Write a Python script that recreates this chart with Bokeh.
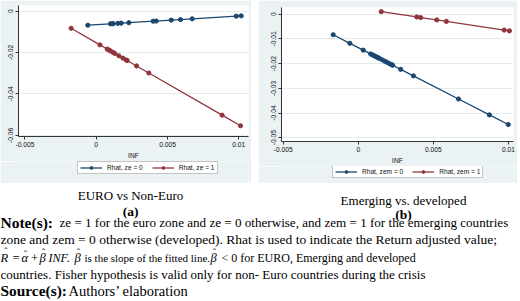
from bokeh.plotting import figure
from bokeh.layouts import column, row
from bokeh.models import (Legend, LegendItem, Label, FixedTicker, Range1d,
                          Spacer, CustomJSTickFormatter)
from bokeh.embed import file_html
from bokeh.resources import INLINE

# ---- Panel (a): EURO vs Non-Euro ------------------------------------------
inf_ze0 = [-0.00059, 0.00100, 0.00112, 0.00119, 0.00152, 0.00175, 0.00229,
           0.00400, 0.00421, 0.00526, 0.00591, 0.00673, 0.00982, 0.01017]
rhat_ze0 = [-0.00685, -0.00618, -0.00613, -0.00610, -0.00596, -0.00586, -0.00564,
            -0.00492, -0.00483, -0.00439, -0.00412, -0.00377, -0.00248, -0.00233]
inf_ze1 = [-0.00176, 0.00026, 0.00077, 0.00089, 0.00100, 0.00117, 0.00131, 0.00159,
           0.00187, 0.00210, 0.00217, 0.00283, 0.00369, 0.00883, 0.01012]
rhat_ze1 = [-0.00833, -0.01633, -0.01835, -0.01882, -0.01926, -0.01993, -0.02049,
            -0.02160, -0.02271, -0.02362, -0.02389, -0.02651, -0.02991, -0.05027,
            -0.05538]

# ---- Panel (b): Emerging vs. developed ------------------------------------
inf_zem0 = [-0.00167, -0.00056, 0.00033, 0.00082, 0.00093, 0.00104, 0.00113,
            0.00122, 0.00131, 0.00140, 0.00158, 0.00175, 0.00189, 0.00206,
            0.00220, 0.00229, 0.00282, 0.00367, 0.00667, 0.00873, 0.00998]
rhat_zem0 = [-0.00830, -0.01177, -0.01454, -0.01607, -0.01642, -0.01676, -0.01704,
             -0.01732, -0.01760, -0.01787, -0.01843, -0.01898, -0.01940, -0.01995,
             -0.02037, -0.02065, -0.02231, -0.02495, -0.03432, -0.04077, -0.04466]
inf_zem1 = [0.00153, 0.00389, 0.00415, 0.00522, 0.00586, 0.00971, 0.01006]
rhat_zem1 = [0.00105, -0.00110, -0.00134, -0.00232, -0.00290, -0.00641, -0.00674]

x_ticks = [-0.005, 0, 0.005, 0.01]
y_ticks_a = [0, -0.02, -0.04, -0.06]
y_ticks_b = [0, -0.01, -0.02, -0.03, -0.04, -0.05]

NAVY = "#1a476f"
MAROON = "#90353b"
PANEL_BG = "#eaf2f3"
SANS = "Liberation Sans"
SERIF = "Liberation Serif"


def panel(width, height, xr, yr, borders, yticks, series):
    left, right, top, bottom = borders
    p = figure(width=width, height=height, x_range=Range1d(*xr), y_range=Range1d(*yr),
               output_backend="svg", toolbar_location=None,
               min_border_left=left, min_border_right=right,
               min_border_top=top, min_border_bottom=bottom,
               background_fill_color="white", border_fill_color=PANEL_BG,
               outline_line_color=None)
    p.xgrid.grid_line_color = None
    p.ygrid.grid_line_color = "#e3ebed"
    p.ygrid.grid_line_width = 1
    fmt = CustomJSTickFormatter(code="return tick.toString()")
    p.xaxis.ticker = FixedTicker(ticks=x_ticks)
    p.yaxis.ticker = FixedTicker(ticks=yticks)
    for ax in (p.xaxis[0], p.yaxis[0]):
        ax.formatter = fmt
        ax.axis_line_color = "#333333"
        ax.axis_line_width = 1
        ax.major_tick_line_color = "#333333"
        ax.major_tick_out = 3
        ax.major_tick_in = 0
        ax.minor_tick_line_color = None
        ax.major_label_text_font = SANS
        ax.major_label_text_font_size = "6.7px"
        ax.major_label_text_color = "#111111"
        ax.major_label_standoff = 2
    p.yaxis.major_label_orientation = "vertical"
    p.xaxis.axis_label = "INF"
    p.xaxis.axis_label_text_font = SANS
    p.xaxis.axis_label_text_font_size = "6.7px"
    p.xaxis.axis_label_text_font_style = "normal"
    p.xaxis.axis_label_text_color = "#111111"
    p.xaxis.axis_label_standoff = 2

    for xs, ys, color in series:
        p.line(xs, ys, line_color=color, line_width=1.3)
        p.scatter(xs, ys, marker="circle", size=4.2, fill_color=color, line_color=color)
    return p


def legend_strip(width, height, labels, series, spot):
    """Grey band under a panel carrying its key.

    The band's ranges sit far from the data, so the series renderers only
    feed the key's samples and draw nothing inside the band itself.
    """
    s = figure(width=width, height=height, x_range=Range1d(1000, 1000 + width),
               y_range=Range1d(1000, 1000 + height), output_backend="svg",
               toolbar_location=None, min_border=0, x_axis_type=None,
               y_axis_type=None, outline_line_color=None,
               background_fill_color=PANEL_BG, border_fill_color=PANEL_BG)
    s.xgrid.grid_line_color = None
    s.ygrid.grid_line_color = None
    items = []
    for label, (xs, ys, color) in zip(labels, series):
        ln = s.line(xs, ys, line_color=color, line_width=1.3)
        sc = s.scatter(xs, ys, marker="circle", size=4.2, fill_color=color,
                       line_color=color)
        items.append(LegendItem(label=label, renderers=[ln, sc]))
    s.add_layout(Legend(items=items, orientation="horizontal", location=spot,
                        label_text_font=SANS, label_text_font_size="6.6px",
                        label_text_color="#111111", label_height=7,
                        glyph_width=22, glyph_height=7, label_standoff=5,
                        spacing=9, padding=2, margin=0,
                        border_line_color="#8a8a8a", border_line_width=0.8,
                        background_fill_color="white", background_fill_alpha=1.0))
    return s


series_a = [(inf_ze0, rhat_ze0, NAVY), (inf_ze1, rhat_ze1, MAROON)]
series_b = [(inf_zem0, rhat_zem0, NAVY), (inf_zem1, rhat_zem1, MAROON)]

fig_a = panel(251, 161, (-0.00545, 0.01068), (-0.06056, 0.00267),
              (18, 3, 5, 21), y_ticks_a, series_a)
key_a = legend_strip(251, 22, ["Rhat, ze = 0", "Rhat, ze = 1"], series_a, (59, 9))

fig_b = panel(259, 166, (-0.00511, 0.01033), (-0.05154, 0.00273),
              (23, 4, 7, 20), y_ticks_b, series_b)
key_b = legend_strip(259, 17, ["Rhat, zem = 0", "Rhat, zem = 1"], series_b, (51, 5))

# ---- Captions and note ----------------------------------------------------
txt = figure(width=520, height=118, x_range=Range1d(0, 520), y_range=Range1d(301, 183),
             output_backend="svg", toolbar_location=None, min_border=0,
             x_axis_type=None, y_axis_type=None, outline_line_color=None,
             background_fill_color="white", border_fill_color="white")
txt.xgrid.grid_line_color = None
txt.ygrid.grid_line_color = None


def put(x, y, text, size, style="normal", align="left"):
    txt.add_layout(Label(x=x, y=y, text=text, text_font=SERIF, text_font_size=size,
                         text_font_style=style, text_align=align,
                         text_baseline="middle", text_color="black"))


def hatted(x, y, letter, hat_dx=4, hat_dy=-5.5):
    """An italic symbol with a circumflex set over it (estimator notation)."""
    put(x, y, letter, "12.5px", "italic")
    put(x + hat_dx, y + hat_dy, "\u02c6", "10px", align="center")


put(130, 195, "EURO vs Non-Euro", "13px", align="center")
put(130, 210.5, "(a)", "13.5px", "bold", align="center")
put(403, 200, "Emerging vs. developed", "13px", align="center")
put(403, 214, "(b)", "13.5px", "bold", align="center")

put(0, 222, "Note(s):", "15.5px", "bold")
put(59, 222, "ze = 1 for the euro zone and ze = 0 otherwise, and zem = 1 for the emerging countries", "13.1px")
put(0, 239, "zone and zem = 0 otherwise (developed). Rhat is used to indicate the Return adjusted value;", "13.5px")

L3 = 257
hatted(0, L3, "R", hat_dx=5.5, hat_dy=-6)
put(12, L3, "=", "12.5px")
hatted(21, L3, "\u03b1", hat_dy=-3.5)
put(30.5, L3, "+", "12.5px")
hatted(39, L3, "\u03b2")
put(48, L3, "INF", "12px", "italic")
put(66, L3, ".", "12.5px")
hatted(74, L3, "\u03b2")
put(84, L3, "is the slope of the fitted line.", "11px")
hatted(210, L3, "\u03b2")
put(221, L3, "< 0 for EURO, Emerging and developed", "12px")

put(0, 273.5, "countries. Fisher hypothesis is valid only for non- Euro countries during the crisis", "13px")
put(0, 290, "Source(s):", "15.4px", "bold")
put(68, 290, "Authors\u2019 elaboration", "14.5px")

layout = column(
    row(column(fig_a, key_a), Spacer(width=7, height=183),
        column(fig_b, key_b), Spacer(width=3, height=183)),
    txt)

open("out.html", "w").write(file_html(layout, INLINE))
